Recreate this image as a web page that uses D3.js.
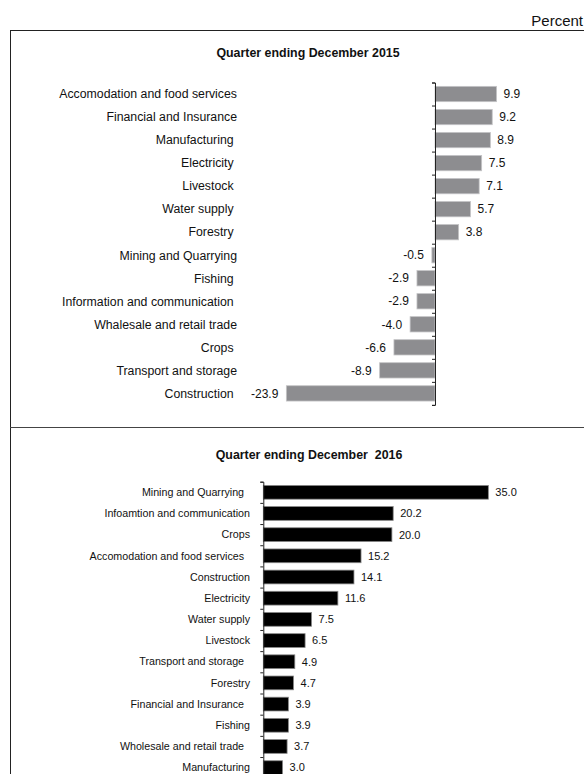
<!DOCTYPE html>
<html>
<head>
<meta charset="utf-8">
<script src="https://cdn.jsdelivr.net/npm/d3@7"></script>
<style>
  html, body { margin: 0; padding: 0; background: #fff; }
  svg { display: block; font-family: "Liberation Sans", Arial, sans-serif; }
  text { white-space: pre; fill: #111; }
</style>
</head>
<body>
<svg id="chart" width="584" height="774"></svg>
<script>
// Growth by activity, quarter ending December 2015 (percent)
const sectors2015 = [
  "Accomodation and food services",
  "Financial and Insurance",
  "Manufacturing ",
  "Electricity ",
  "Livestock ",
  "Water supply ",
  "Forestry ",
  "Mining and Quarrying",
  "Fishing ",
  "Information and communication ",
  "Whalesale and retail trade",
  "Crops ",
  "Transport and storage",
  "Construction "
];
const growth2015 = [9.9, 9.2, 8.9, 7.5, 7.1, 5.7, 3.8, -0.5, -2.9, -2.9, -4.0, -6.6, -8.9, -23.9];

// Growth by activity, quarter ending December 2016 (percent)
const sectors2016 = [
  "Mining and Quarrying  ",
  "Infoamtion and communication",
  "Crops",
  "Accomodation and food services  ",
  "Construction",
  "Electricity",
  "Water supply",
  "Livestock",
  "Transport and storage  ",
  "Forestry",
  "Financial and Insurance  ",
  "Fishing",
  "Wholesale and retail trade  ",
  "Manufacturing"
];
const growth2016 = [35.0, 20.2, 20.0, 15.2, 14.1, 11.6, 7.5, 6.5, 4.9, 4.7, 3.9, 3.9, 3.7, 3.0];

const unitLabel = "Percent";
const title2015 = "Quarter ending December 2015";
const title2016 = "Quarter ending December  2016";

const svg = d3.select("#chart");
const fmt = v => v.toFixed(1);

// frame: top rule, left rule and the divider between the two panels
svg.append("text")
  .attr("x", 583).attr("y", 26)
  .attr("text-anchor", "end")
  .style("font-size", "15px")
  .text(unitLabel);

const frame = svg.append("g").attr("stroke", "#222").attr("stroke-width", 1).attr("fill", "none");
frame.append("line").attr("x1", 10).attr("x2", 584).attr("y1", 30.5).attr("y2", 30.5);
frame.append("line").attr("x1", 10.5).attr("x2", 10.5).attr("y1", 30).attr("y2", 774);
frame.append("line").attr("x1", 10).attr("x2", 584).attr("y1", 427.5).attr("y2", 427.5).attr("stroke", "#444");

function drawPanel(cfg) {
  const g = svg.append("g");

  g.append("text")
    .attr("x", cfg.titleX).attr("y", cfg.titleY)
    .attr("text-anchor", "middle")
    .style("font-size", "12.4px")
    .style("font-weight", "bold")
    .text(cfg.title);

  const y = d3.scaleBand()
    .domain(cfg.cats)
    .range(cfg.yRange)
    .paddingInner(cfg.pad)
    .paddingOuter(cfg.pad / 2);

  const x = d3.scaleLinear().domain(cfg.xDomain).range(cfg.xRange);

  const rows = cfg.cats.map((c, i) => ({ c, v: cfg.vals[i] }));

  g.selectAll("rect.bar").data(rows).join("rect")
    .attr("class", "bar")
    .attr("x", d => x(Math.min(0, d.v)))
    .attr("y", d => y(d.c))
    .attr("width", d => Math.abs(x(d.v) - x(0)))
    .attr("height", y.bandwidth())
    .attr("fill", cfg.fill)
    .attr("stroke", cfg.stroke)
    .attr("stroke-width", 0.8);

  // category axis: ticks sit on band boundaries
  const edges = d3.scaleLinear().domain([0, cfg.cats.length]).range(cfg.yRange);
  g.append("g")
    .attr("transform", `translate(${x(0)},0)`)
    .call(d3.axisLeft(edges)
      .tickValues(d3.range(cfg.cats.length + 1))
      .tickFormat("")
      .tickSize(3))
    .call(a => a.selectAll("path, line").attr("stroke", "#222"));

  g.selectAll("text.cat").data(rows).join("text")
    .attr("class", "cat")
    .attr("x", cfg.labelX)
    .attr("y", d => y(d.c) + y.bandwidth() / 2)
    .attr("dy", "0.35em")
    .attr("text-anchor", "end")
    .style("font-size", cfg.fontSize)
    .text(d => d.c);

  g.selectAll("text.val").data(rows).join("text")
    .attr("class", "val")
    .attr("x", d => d.v >= 0 ? x(d.v) + 7 : x(d.v) - 8)
    .attr("y", d => y(d.c) + y.bandwidth() / 2)
    .attr("dy", "0.35em")
    .attr("text-anchor", d => d.v >= 0 ? "start" : "end")
    .style("font-size", cfg.valSize)
    .text(d => fmt(d.v));
}

drawPanel({
  title: title2015, titleX: 308, titleY: 57,
  cats: sectors2015, vals: growth2015,
  yRange: [82.5, 404.9], pad: 0.335,
  xDomain: [-30, 20], xRange: [435 - 30 * 6.22, 435 + 20 * 6.22],
  fill: "#8d8d90", stroke: "#c4c4c6",
  labelX: 237, fontSize: "12.3px", valSize: "12px"
});

drawPanel({
  title: title2016, titleX: 309, titleY: 459,
  cats: sectors2016, vals: growth2016,
  yRange: [481.7, 481.7 + 14 * 21.18], pad: 0.35,
  xDomain: [0, 40], xRange: [263.3, 263.3 + 40 * 6.43],
  fill: "#000", stroke: "#888",
  labelX: 250, fontSize: "10.7px", valSize: "11px"
});
</script>
</body>
</html>
